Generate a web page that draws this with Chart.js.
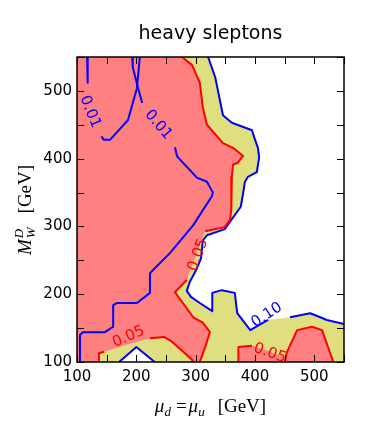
<!DOCTYPE html>
<html>
<head>
<meta charset="utf-8">
<script src="https://cdn.jsdelivr.net/npm/chart.js@4.4.1/dist/chart.umd.min.js"></script>
<style>
  html, body { margin: 0; padding: 0; background: #fff; }
  #wrap { width: 366px; height: 436px; }
</style>
</head>
<body>
<div id="wrap"><canvas id="chart" width="366" height="436"></canvas></div>
<script>
const chartTitle = 'heavy sleptons';
const tickLabels = [100, 200, 300, 400, 500];

// region left of / below the 0.10 contour
const yellowRegion = [
  [100, 550], [321, 550], [333, 520], [346, 464], [361, 453], [395, 442], [400, 428],
  [405, 416], [407, 402], [403, 380], [388, 373], [383, 366], [380, 349], [376, 329],
  [349, 296], [319, 287], [312, 279], [309, 253], [301, 236], [290, 218], [285, 205],
  [292, 196], [307, 187], [328, 175], [328, 202], [344, 206], [366, 202], [370, 172],
  [392, 147], [422, 162], [459, 166], [493, 172], [510, 166], [521, 162], [550, 156],
  [550, 100], [100, 100], [100, 550],
];

// regions inside the 0.05 contours
const salmonMain = [
  [100, 550], [277, 550], [294, 538], [307, 512], [312, 476], [319, 450], [346, 423],
  [363, 416], [380, 404], [371, 394], [363, 391], [361, 373], [360, 324], [358, 310],
  [349, 299], [316, 293], [307, 274], [299, 253], [291, 236], [285, 221], [265, 203],
  [296, 166], [312, 158], [324, 144], [316, 122], [307, 100], [294, 100], [294, 103],
  [279, 115], [260, 130], [247, 137], [223, 135], [185, 126], [146, 115], [137, 113],
  [137, 100], [100, 100], [100, 550],
];
const salmonBottom = [[372, 100], [372, 122], [395, 124], [420, 117], [446, 108], [449, 100], [372, 100]];
const salmonRight = [[450, 100], [454, 115], [471, 147], [496, 152], [513, 147], [532, 100], [450, 100]];
const whiteNotch = [[171, 100], [200, 122], [231, 100], [171, 100]];

// 0.05 contour lines
const red05Upper = [
  [277, 550], [294, 538], [307, 512], [312, 476], [319, 450], [346, 423], [363, 416],
  [380, 404], [371, 394], [363, 391], [361, 373], [360, 324], [358, 310], [349, 299], [316, 293],
];
const red05Lower = [[285, 221], [265, 203], [296, 166], [312, 158], [324, 144], [316, 122], [307, 100]];
const red05LeftA = [[137, 100], [137, 113], [146, 115]];
const red05LeftB = [[223, 135], [247, 137], [260, 130], [279, 115], [294, 103], [295, 100]];
const red05Mid = [[372, 100], [372, 122], [395, 124]];
const red05Right = [[450, 100], [454, 115], [471, 147], [496, 152], [513, 147], [532, 100]];

// 0.01 contour lines
const blue01aTop = [[117, 550], [118, 512]];
const blue01aLow = [[141, 433], [145, 428], [156, 428], [186, 457], [201, 504], [206, 550]];
const blue01bTop = [[193, 550], [194, 535], [203, 504], [210, 482]];
const blue01bLow = [
  [265, 417], [269, 403], [285, 388], [302, 372], [319, 366], [324, 358], [329, 350],
  [327, 344], [312, 324], [296, 302], [257, 261], [232, 239], [223, 231], [223, 202],
  [201, 187], [167, 187], [161, 184], [161, 152], [147, 144], [110, 144], [105, 140], [105, 100],
];

// 0.10 contour lines
const blue10Upper = yellowRegion.slice(1, 30);
const blue10Right = [[459, 166], [493, 172], [510, 166], [521, 162], [550, 156]];
const blue10Notch = [[171, 100], [200, 122], [231, 100]];

const contourLabels = [
  { text: '0.01', x: 122, y: 469, rot: 68, color: '#0000ff' },
  { text: '0.01', x: 237, y: 450, rot: 50, color: '#0000ff' },
  { text: '0.05', x: 304, y: 258, rot: -70, color: '#ff0000' },
  { text: '0.05', x: 187, y: 137, rot: -24, color: '#ff0000' },
  { text: '0.10', x: 420, y: 169, rot: -33, color: '#0000ff' },
  { text: '0.05', x: 425, y: 113, rot: 20, color: '#ff0000' },
];

const SALMON = '#ff8080';
const YELLOW = '#dfdf80';
const RED = '#ff0000';
const BLUE = '#0000ff';

const toPoints = (arr) => arr.map(([x, y]) => ({ x, y }));

function area(points, color, order) {
  return {
    data: toPoints(points),
    backgroundColor: color,
    borderWidth: 0,
    fill: 'shape',
    pointRadius: 0,
    tension: 0,
    order,
  };
}

function contour(points, color) {
  return {
    data: toPoints(points),
    borderColor: color,
    borderWidth: 2,
    borderJoinStyle: 'round',
    fill: false,
    pointRadius: 0,
    tension: 0,
    order: 0,
  };
}

const frameTicks = {
  id: 'frameTicks',
  afterDraw(chart) {
    const { ctx, chartArea: a, scales: { x, y } } = chart;
    ctx.save();
    ctx.strokeStyle = '#000';
    ctx.lineWidth = 1;
    ctx.beginPath();
    x.ticks.forEach((t) => {
      const px = Math.round(x.getPixelForValue(t.value)) + 0.5;
      ctx.moveTo(px, a.bottom); ctx.lineTo(px, a.bottom - 7);
      ctx.moveTo(px, a.top); ctx.lineTo(px, a.top + 7);
    });
    y.ticks.forEach((t) => {
      const py = Math.round(y.getPixelForValue(t.value)) + 0.5;
      ctx.moveTo(a.left, py); ctx.lineTo(a.left + 7, py);
      ctx.moveTo(a.right, py); ctx.lineTo(a.right - 7, py);
    });
    ctx.stroke();
    ctx.lineWidth = 1.5;
    ctx.strokeRect(a.left, a.top, a.right - a.left, a.bottom - a.top);
    ctx.restore();
  },
};

const labelsOnLines = {
  id: 'labelsOnLines',
  afterDatasetsDraw(chart) {
    const { ctx, scales: { x, y } } = chart;
    ctx.save();
    ctx.font = '15px "DejaVu Sans"';
    ctx.textAlign = 'center';
    ctx.textBaseline = 'middle';
    contourLabels.forEach((l) => {
      ctx.save();
      ctx.translate(x.getPixelForValue(l.x), y.getPixelForValue(l.y));
      ctx.rotate((l.rot * Math.PI) / 180);
      ctx.fillStyle = l.color;
      ctx.fillText(l.text, 0, 0);
      ctx.restore();
    });
    ctx.restore();
  },
};

const SERIF = '"Liberation Serif"';
function drawRich(ctx, parts, startX, baseline) {
  let cx = startX;
  parts.forEach((p) => {
    ctx.font = p.font;
    ctx.fillText(p.t, cx, baseline + (p.dy || 0));
    const w = ctx.measureText(p.t).width;
    cx += (p.noAdvance ? 0 : w) + (p.gap || 0);
  });
  return cx - startX;
}
function richWidth(ctx, parts) {
  let w = 0;
  parts.forEach((p) => {
    ctx.font = p.font;
    w += (p.noAdvance ? 0 : ctx.measureText(p.t).width) + (p.gap || 0);
  });
  return w;
}

const titles = {
  id: 'titles',
  afterDraw(chart) {
    const { ctx, chartArea: a } = chart;
    const it = `italic 19px ${SERIF}`;
    const sub = `italic 13px ${SERIF}`;
    const up = `19px ${SERIF}`;
    const cx = (a.left + a.right) / 2;
    ctx.save();
    ctx.fillStyle = '#000';
    ctx.textBaseline = 'alphabetic';

    ctx.textAlign = 'center';
    ctx.font = '19px "DejaVu Sans"';
    ctx.fillText(chartTitle, cx, 38.5);

    ctx.textAlign = 'left';
    const xParts = [
      { t: 'μ', font: it },
      { t: 'd', font: sub, dy: 4, gap: 5 },
      { t: '=', font: up, gap: 2 },
      { t: 'μ', font: it },
      { t: 'u', font: sub, dy: 4, gap: 13 },
      { t: '[GeV]', font: up },
    ];
    drawRich(ctx, xParts, cx - richWidth(ctx, xParts) / 2, 412);

    const yParts = [
      { t: 'M', font: it, gap: 1 },
      { t: 'D', font: sub, dy: -8, noAdvance: true },
      { t: 'W', font: sub, dy: 4, gap: 14 },
      { t: '[GeV]', font: up },
    ];
    ctx.translate(31, (a.top + a.bottom) / 2 + 0.5);
    ctx.rotate(-Math.PI / 2);
    drawRich(ctx, yParts, -richWidth(ctx, yParts) / 2, 0);
    ctx.restore();
  },
};

const tickFont = { family: 'DejaVu Sans', size: 15 };

new Chart(document.getElementById('chart'), {
  type: 'line',
  data: {
    datasets: [
      area(yellowRegion, YELLOW, 10),
      area(salmonMain, SALMON, 9),
      area(salmonBottom, SALMON, 9),
      area(salmonRight, SALMON, 9),
      area(whiteNotch, '#ffffff', 8),
      contour(red05Upper, RED),
      contour(red05Lower, RED),
      contour(red05LeftA, RED),
      contour(red05LeftB, RED),
      contour(red05Mid, RED),
      contour(red05Right, RED),
      contour(blue01aTop, BLUE),
      contour(blue01aLow, BLUE),
      contour(blue01bTop, BLUE),
      contour(blue01bLow, BLUE),
      contour(blue10Upper, BLUE),
      contour(blue10Right, BLUE),
      contour(blue10Notch, BLUE),
    ],
  },
  options: {
    responsive: false,
    devicePixelRatio: 1,
    animation: false,
    events: [],
    layout: { padding: { left: 0, right: 22, top: 57, bottom: 0 } },
    plugins: {
      legend: { display: false },
      tooltip: { enabled: false },
      title: { display: false },
    },
    scales: {
      x: {
        type: 'linear',
        min: 100,
        max: 550,
        afterFit(scale) { scale.height = 74; },
        grid: { display: false, drawTicks: false },
        border: { display: false },
        ticks: {
          stepSize: 50,
          autoSkip: false,
          maxRotation: 0,
          padding: 6,
          color: '#000',
          font: tickFont,
          callback: (v) => (tickLabels.includes(v) ? String(v) : ''),
        },
      },
      y: {
        type: 'linear',
        min: 100,
        max: 550,
        afterFit(scale) { scale.width = 77; },
        grid: { display: false, drawTicks: false },
        border: { display: false },
        ticks: {
          stepSize: 50,
          autoSkip: false,
          padding: 5,
          color: '#000',
          font: tickFont,
          callback: (v) => (tickLabels.includes(v) ? String(v) : ''),
        },
      },
    },
  },
  plugins: [labelsOnLines, frameTicks, titles],
});
</script>
</body>
</html>
